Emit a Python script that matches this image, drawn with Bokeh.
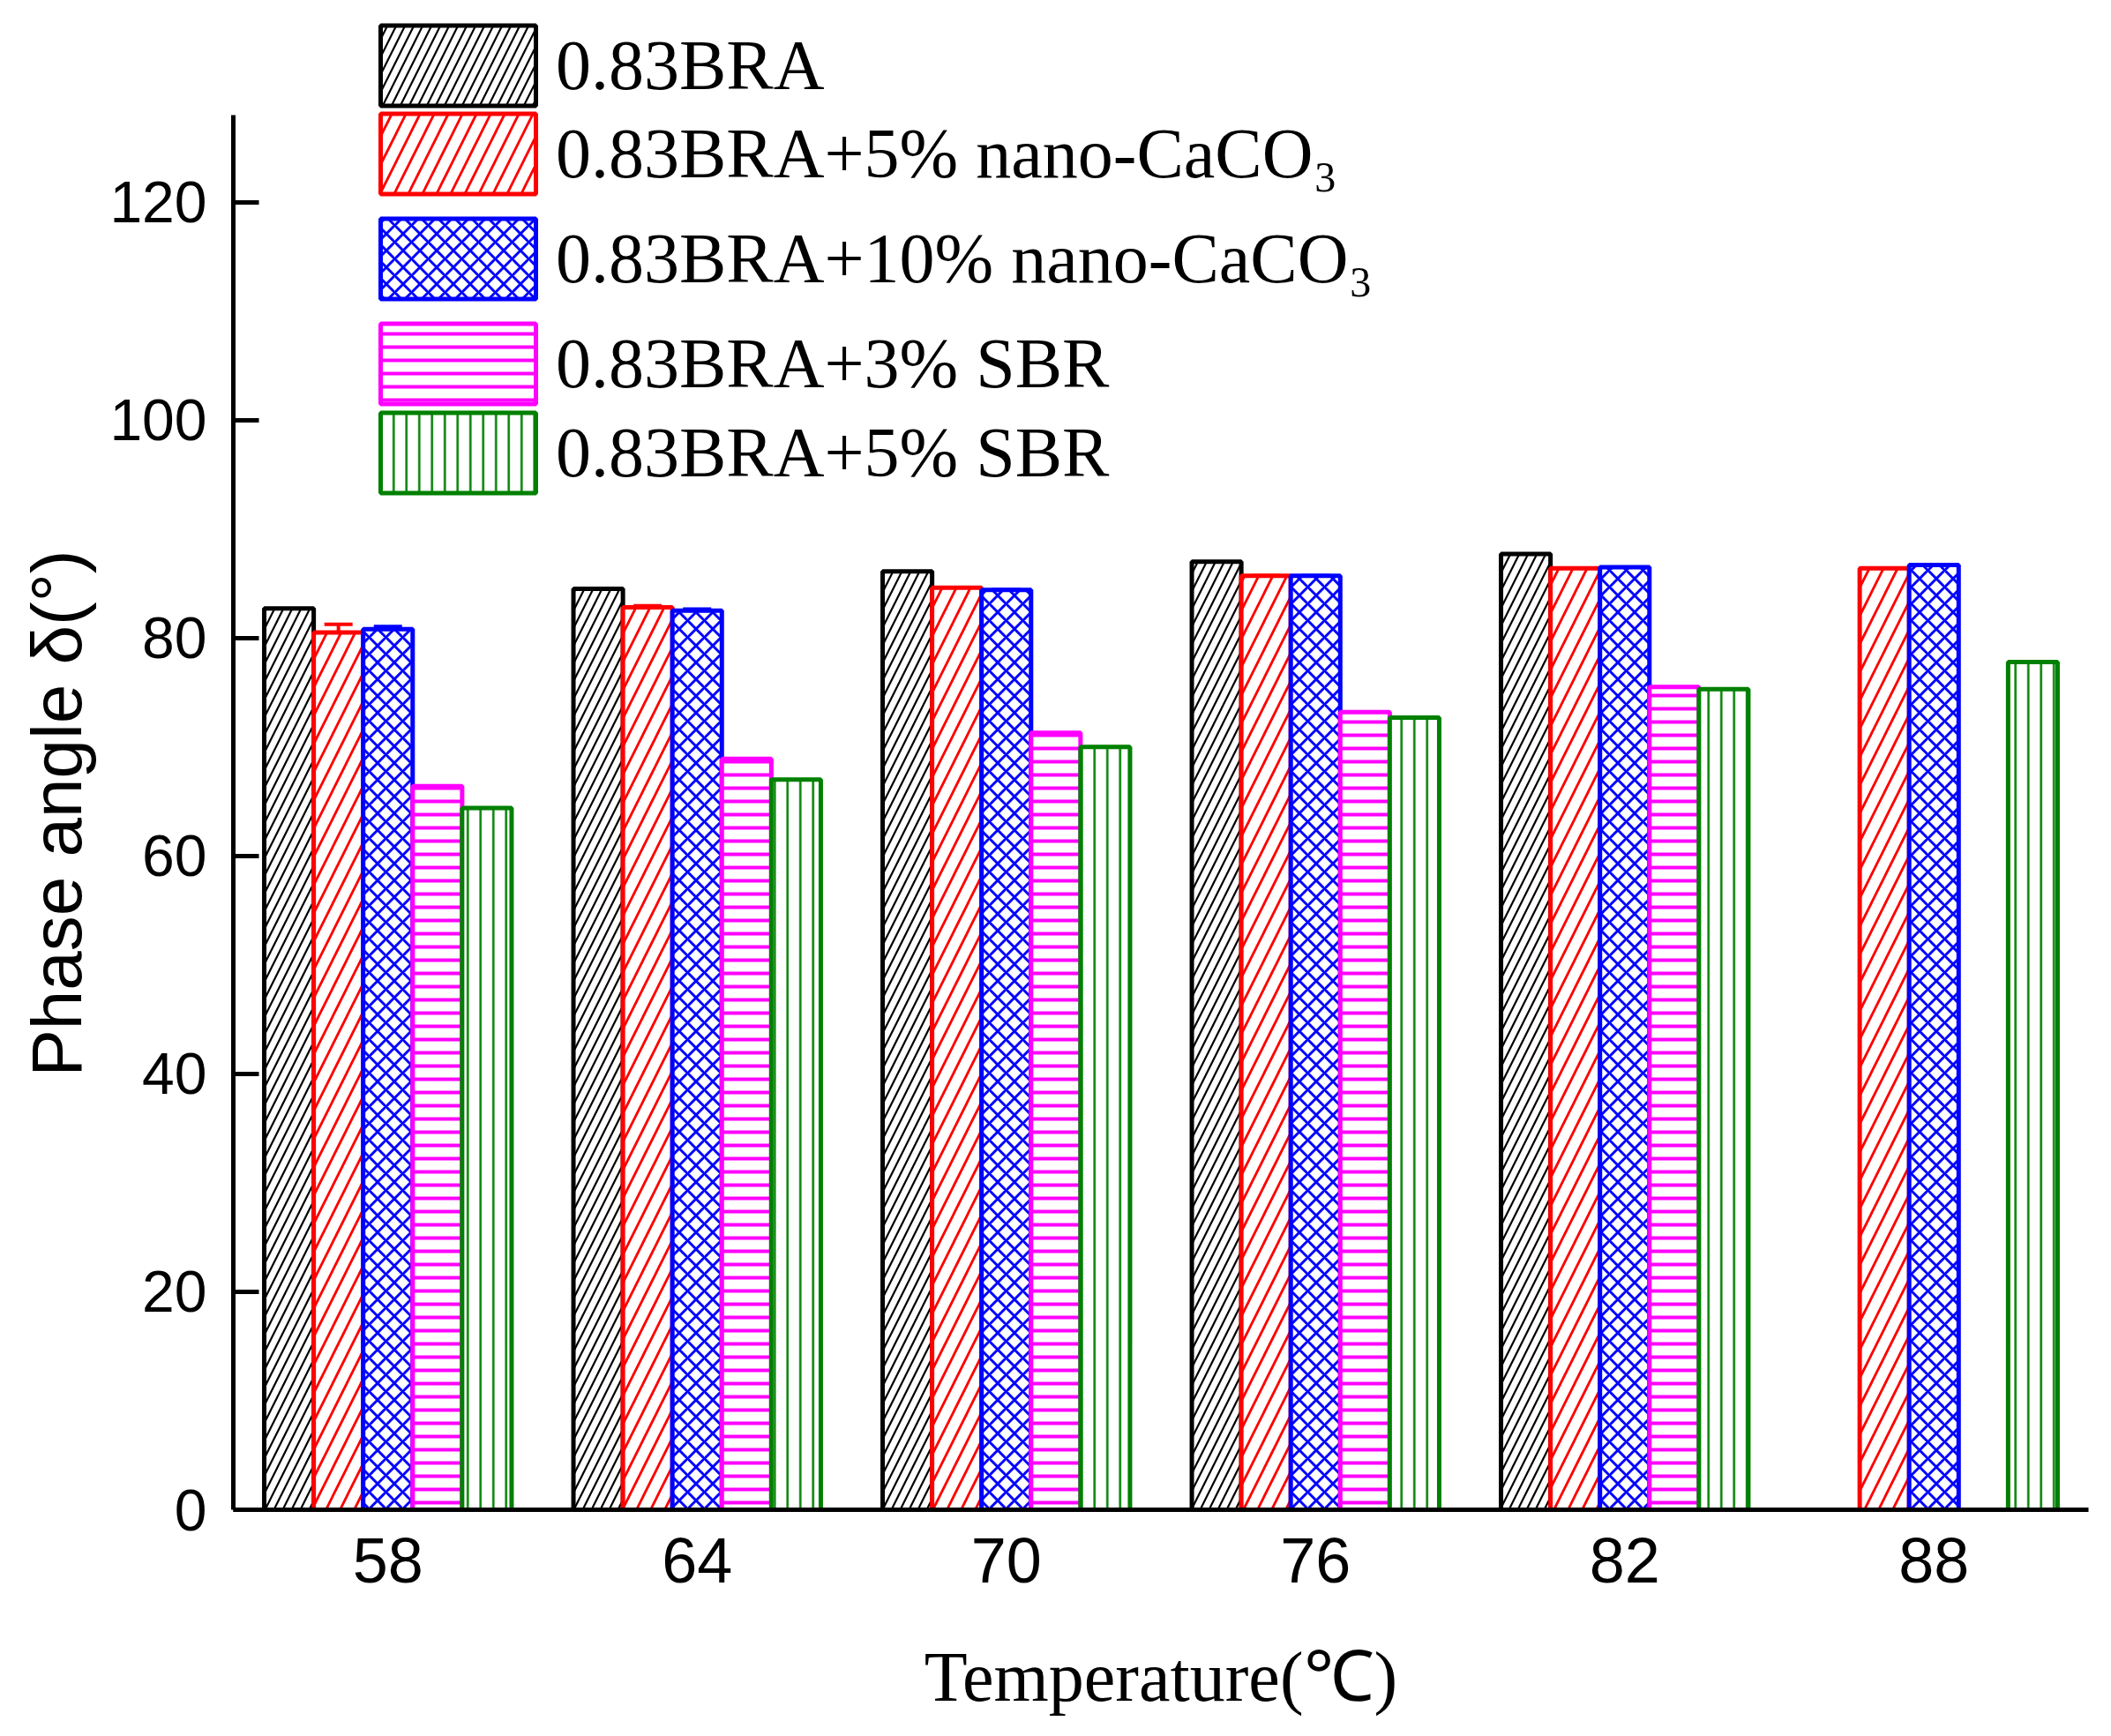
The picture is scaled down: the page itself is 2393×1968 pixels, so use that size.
from bokeh.plotting import figure
from bokeh.models import (ColumnDataSource, FactorRange, Legend, LegendItem, FixedTicker,
                          Whisker, TeeHead, Title)
from bokeh.transform import dodge
from bokeh.embed import file_html
from bokeh.resources import INLINE

nan = float("nan")

temps = ["58", "64", "70", "76", "82", "88"]
s_bra = [82.7, 84.5, 86.1, 87.0, 87.7, nan]
s_nano5 = [80.5, 82.8, 84.6, 85.7, 86.4, 86.4]
s_nano10 = [80.8, 82.5, 84.4, 85.7, 86.5, 86.7]
s_sbr3 = [66.4, 68.9, 71.3, 73.2, 75.5, nan]
s_sbr5 = [64.4, 67.0, 70.0, 72.7, 75.3, 77.8]
err_nano5 = [0.75, 0.15, 0.0, 0.0, 0.0, 0.0]
err_nano10 = [0.25, 0.15, 0.0, 0.0, 0.0, 0.0]

names = ["0.83BRA", "0.83BRA+5% nano-CaCO\u2083", "0.83BRA+10% nano-CaCO\u2083",
         "0.83BRA+3% SBR", "0.83BRA+5% SBR"]
series = [s_bra, s_nano5, s_nano10, s_sbr3, s_sbr5]
colors = ["black", "#ff0000", "#0000ff", "#ff00ff", "#008000"]
hatches = ["/", "/", "x", "-", "|"]
hscale = [20, 32, 19, 15, 14.5]
hweight = [2.2, 2.8, 3, 4, 2.5]
offsets = [-0.32, -0.16, 0.0, 0.16, 0.32]
legend_y = [1580, 1480, 1361, 1242, 1141]

data = dict(x=temps)
for i, s in enumerate(series):
    data[f"s{i}"] = s
data["up1"] = [v + e for v, e in zip(s_nano5, err_nano5)]
data["lo1"] = [v - e for v, e in zip(s_nano5, err_nano5)]
data["up2"] = [v + e for v, e in zip(s_nano10, err_nano10)]
data["lo2"] = [v - e for v, e in zip(s_nano10, err_nano10)]
src = ColumnDataSource(data)

p = figure(x_range=FactorRange(*temps, range_padding=0), y_range=(0, 138.5),
           width=2377, height=1952, output_backend="svg", toolbar_location=None,
           min_border_left=264, min_border_right=10, min_border_top=0, min_border_bottom=241)
p.outline_line_color = None
p.xgrid.grid_line_color = None
p.ygrid.grid_line_color = None
p.background_fill_color = "white"

renderers = []
for i in range(5):
    r = p.vbar(x=dodge("x", offsets[i], range=p.x_range), top=f"s{i}", width=0.16, bottom=0,
               source=src, fill_color="white", line_color=colors[i], line_width=5,
               hatch_pattern=hatches[i], hatch_color=colors[i], hatch_scale=hscale[i],
               hatch_weight=hweight[i])
    renderers.append(r)

for up, lo, off, col in [("up1", "lo1", -0.16, "#ff0000"), ("up2", "lo2", 0.0, "#0000ff")]:
    w = Whisker(source=src, base=dodge("x", off, range=p.x_range), upper=up, lower=lo,
                line_color=col, line_width=4,
                upper_head=TeeHead(size=32, line_color=col, line_width=4),
                lower_head=TeeHead(size=32, line_color=col, line_width=4))
    p.add_layout(w)

# axes
p.yaxis.bounds = (0, 128)
p.yaxis.ticker = FixedTicker(ticks=[0, 20, 40, 60, 80, 100, 120])
p.yaxis.major_tick_in = 29
p.yaxis.major_tick_out = 0
p.yaxis.minor_tick_line_color = None
p.yaxis.axis_line_width = 5
p.yaxis.axis_line_color = "black"
p.yaxis.major_tick_line_width = 5
p.yaxis.major_tick_line_color = "black"
p.yaxis.major_label_text_font = "Liberation Sans"
p.yaxis.major_label_text_font_size = "66px"
p.yaxis.major_label_text_color = "black"
p.yaxis.major_label_standoff = 30

p.xaxis.major_tick_in = 0
p.xaxis.major_tick_out = 0
p.xaxis.axis_line_width = 5
p.xaxis.axis_line_color = "black"
p.xaxis.major_label_text_font = "Liberation Sans"
p.xaxis.major_label_text_font_size = "72px"
p.xaxis.major_label_text_color = "black"
p.xaxis.major_label_standoff = 32
p.xaxis.axis_label = "Temperature(\u2103)"
p.xaxis.axis_label_text_font = "Liberation Serif"
p.xaxis.axis_label_text_font_size = "80px"
p.xaxis.axis_label_text_font_style = "normal"
p.xaxis.axis_label_text_color = "black"
p.xaxis.axis_label_standoff = 60
p.xaxis.group_text_font_size = "0px"

ylab = Title(text="Phase angle \u03b4(\u00b0)", align="left", offset=491,
             text_font="Liberation Sans", text_font_size="80px", text_font_style="normal",
             text_color="black", standoff=26)
p.add_layout(ylab, "left")

for i in range(5):
    lg = Legend(items=[LegendItem(label=names[i], renderers=[renderers[i]])],
                location=(145, legend_y[i]), orientation="vertical",
                glyph_width=220, glyph_height=114, label_height=114, spacing=0,
                padding=0, margin=0, label_standoff=1,
                label_text_font="Liberation Serif", label_text_font_size="80px",
                label_text_color="black",
                background_fill_alpha=0, border_line_color=None)
    p.add_layout(lg, "center")

open("out.html", "w").write(file_html(p, INLINE))
